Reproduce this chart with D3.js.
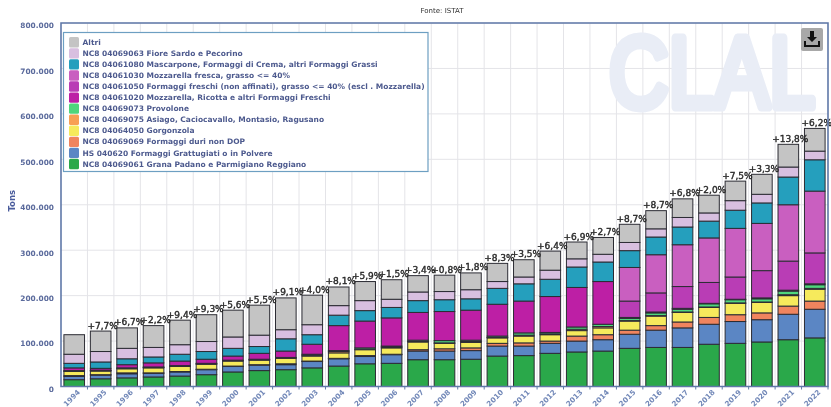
<!DOCTYPE html>
<html>
<head>
<meta charset="utf-8">
<script src="https://cdn.jsdelivr.net/npm/d3@7"></script>
<style>
html, body { margin: 0; padding: 0; background: #fff; overflow: hidden; }
svg { display: block; filter: blur(0.55px); font-family: "DejaVu Sans", sans-serif; }
</style>
</head>
<body>
<svg id="chart" width="831" height="407"></svg>
<script>
// migliaia di tonnellate
var years = [1994,1995,1996,1997,1998,1999,2000,2001,2002,2003,2004,2005,2006,2007,2008,2009,2010,2011,2012,2013,2014,2015,2016,2017,2018,2019,2020,2021,2022];
var grana      = [15,17,19,21,23,26,32,35,37,41,45,50,51,59,59,60,67,68,73,76,78,84,86,86,93,95,98,103,107];
var grattugiati= [7,8,9,8,9,11,12,12,11,14,16,16,19,19,19,19,22,21,22,24,25,31,38,43,44,48,49,56,63];
var duri       = [2,1,2,1,1,1,1,1,2,1,1,2,1,3,5,6,6,7,5,11,11,9,10,13,15,15,15,18,18];
var gorgonzola = [9,8,9,11,11,11,11,10,12,11,12,13,14,17,12,12,12,15,14,12,15,20,21,21,22,25,23,23,26];
var asiago     = [1,1,1,1,1,1,1,1,1,2,3,1,2,1,1,2,1,2,2,3,3,1,1,1,1,1,1,2,2];
var provolone  = [1,1,1,1,1,1,1,1,1,2,2,3,2,3,5,3,3,5,3,5,5,5,6,6,7,7,7,8,8];
var mozzRicotta= [6,4,7,9,10,9,9,13,14,22,55,59,62,61,64,66,70,70,79,87,94,2,2,2,1,1,2,2,2];
var freschi    = [0,0,0,0,0,0,0,0,0,0,0,0,0,0,0,0,0,0,0,0,0,36,42,48,46,49,60,64,68];
var mozzFresca = [0,0,0,0,0,0,0,0,0,0,0,0,0,0,0,0,0,0,0,0,0,74,84,92,98,107,104,124,136];
var mascarpone = [10,14,13,13,15,17,17,15,27,21,23,23,23,26,26,25,35,38,38,45,43,37,39,39,37,40,45,61,69];
var fiore      = [20,23,23,21,21,22,25,25,20,22,21,22,18,19,18,20,15,15,20,18,17,18,18,21,18,21,19,22,19];
var altri      = [43,45,45,48,54,59,59,66,70,65,41,42,43,36,36,37,40,38,42,37,37,40,40,41,39,43,44,50,50];
var growth = ["","+7,7%","+6,7%","+2,2%","+9,4%","+9,3%","+5,6%","+5,5%","+9,1%","+4,0%","+8,1%","+5,9%","+1,5%","+3,4%","+0,8%","+1,8%","+8,3%","+3,5%","+6,4%","+6,9%","+2,7%","+8,7%","+8,7%","+6,8%","+2,0%","+7,5%","+3,3%","+13,8%","+6,2%"];

var yTicks = [0,100,200,300,400,500,600,700,800];

// dal basso verso l'alto
var seriesNames = ["grana","grattugiati","duri","gorgonzola","asiago","provolone","mozzRicotta","freschi","mozzFresca","mascarpone","fiore","altri"];
var seriesValues = [grana,grattugiati,duri,gorgonzola,asiago,provolone,mozzRicotta,freschi,mozzFresca,mascarpone,fiore,altri];
var seriesColors = ["#2aa84a","#5b86c4","#f0845e","#f6ea5c","#f8a054","#4fd67c","#bd1fa5","#b93db5","#c95fc0","#259fbd","#d8bfe0","#c4c4c4"];
// legenda dall'alto verso il basso
var legendLabels = [
    "NC8 04069061 Grana Padano e Parmigiano Reggiano",
    "HS 040620 Formaggi Grattugiati o in Polvere",
    "NC8 04069069 Formaggi duri non DOP",
    "NC8 04064050 Gorgonzola",
    "NC8 04069075 Asiago, Caciocavallo, Montasio, Ragusano",
    "NC8 04069073 Provolone",
    "NC8 04061020 Mozzarella, Ricotta e altri Formaggi Freschi",
    "NC8 04061050 Formaggi freschi (non affinati), grasso <= 40% (escl . Mozzarella)",
    "NC8 04061030 Mozzarella fresca, grasso <= 40%",
    "NC8 04061080 Mascarpone, Formaggi di Crema, altri Formaggi Grassi",
    "NC8 04069063 Fiore Sardo e Pecorino",
    "Altri"
];

var LAYOUT = { "left": 61, "right": 828, "top": 23, "bottom": 386.5 };
var axisColor = "#5f78a8";
var labelColor = "#5a6a9c";

var svg = d3.select("#chart");

var x = d3.scaleBand()
    .domain(years)
    .range([LAYOUT.left, LAYOUT.right])
    .paddingInner(0.22)
    .paddingOuter(0.11);

var y = d3.scaleLinear()
    .domain([0, 800])
    .range([LAYOUT.bottom, LAYOUT.top]);

var color = d3.scaleOrdinal().domain(seriesNames).range(seriesColors);

var table = years.map(function (year, i) {
    var row = { year: year };
    seriesNames.forEach(function (name, s) { row[name] = seriesValues[s][i]; });
    return row;
});
var stacked = d3.stack().keys(seriesNames)(table);

// griglia
var grid = svg.append("g").attr("class", "grid");
grid.selectAll("line.h")
    .data(yTicks)
    .enter().append("line")
    .attr("class", "h")
    .attr("x1", LAYOUT.left).attr("x2", LAYOUT.right)
    .attr("y1", function (d) { return y(d); })
    .attr("y2", function (d) { return y(d); })
    .attr("stroke", "#e4e4e8").attr("stroke-width", 1);
grid.selectAll("line.v")
    .data(years.slice(0, -1))
    .enter().append("line")
    .attr("class", "v")
    .attr("x1", function (d) { return x(d) + x.step() * 0.89; })
    .attr("x2", function (d) { return x(d) + x.step() * 0.89; })
    .attr("y1", LAYOUT.top).attr("y2", LAYOUT.bottom)
    .attr("stroke", "#e4e4e8").attr("stroke-width", 1);

// logo in filigrana
svg.append("text")
    .attr("x", 609).attr("y", 107)
    .attr("textLength", 206).attr("lengthAdjust", "spacingAndGlyphs")
    .attr("font-family", "'Liberation Sans', sans-serif")
    .attr("font-size", 100)
    .attr("fill", "#e9edf6").attr("stroke", "#e9edf6")
    .attr("stroke-width", 9).attr("stroke-linejoin", "round")
    .text("CLAL");

// barre
var layers = svg.append("g").attr("class", "bars")
    .selectAll("g")
    .data(stacked)
    .enter().append("g")
    .attr("fill", function (d) { return color(d.key); });

layers.selectAll("rect")
    .data(function (d) { return d.filter(function (e) { return e[1] > e[0]; }); })
    .enter().append("rect")
    .attr("x", function (d) { return x(d.data.year); })
    .attr("width", x.bandwidth())
    .attr("y", function (d) { return y(d[1]); })
    .attr("height", function (d) { return y(d[0]) - y(d[1]); })
    .attr("stroke", "#2c2c34")
    .attr("stroke-width", 1);

// variazione annua sopra le barre
var totals = table.map(function (row) { return d3.sum(seriesNames, function (n) { return row[n]; }); });
svg.append("g").attr("class", "growth")
    .selectAll("text")
    .data(years)
    .enter().append("text")
    .attr("x", function (d) { return x(d) + x.bandwidth() / 2 + 2; })
    .attr("y", function (d, i) { return y(totals[i]) - 2.5; })
    .attr("text-anchor", "middle")
    .attr("font-size", 9)
    .attr("fill", "#2a2a2a")
    .attr("stroke", "#2a2a2a").attr("stroke-width", 0.4)
    .text(function (d, i) { return growth[i]; });

// assi
var fmt = d3.formatLocale({ decimal: ",", thousands: ".", grouping: [3], currency: ["", ""] }).format(",");
var yAxis = svg.append("g")
    .attr("transform", "translate(" + LAYOUT.left + ",0)")
    .call(d3.axisLeft(y).tickValues(yTicks).tickSize(0).tickPadding(7).tickFormat(function (d) { return fmt(d * 1000); }));
yAxis.select(".domain").remove();
yAxis.selectAll("text")
    .attr("dy", "0.65em")
    .attr("font-family", "'DejaVu Sans', sans-serif")
    .attr("font-weight", "bold").attr("font-size", 7.4)
    .attr("fill", labelColor);

var xAxis = svg.append("g")
    .attr("transform", "translate(0," + LAYOUT.bottom + ")")
    .call(d3.axisBottom(x).tickSize(0).tickPadding(5));
xAxis.select(".domain").remove();
xAxis.selectAll("text")
    .attr("font-family", "'DejaVu Sans', sans-serif")
    .attr("font-weight", "bold").attr("font-size", 7.2)
    .attr("fill", "#7288b8")
    .attr("text-anchor", "end")
    .attr("dx", "0.5em").attr("dy", "0.75em")
    .each(function () {
        // ruota attorno al tick
        var t = d3.select(this);
        t.attr("transform", "rotate(-45 0 " + t.attr("y") + ")");
    });

svg.append("g").attr("class", "ticks")
    .selectAll("line")
    .data(years)
    .enter().append("line")
    .attr("x1", function (d) { return x(d) + x.step() * 0.89; })
    .attr("x2", function (d) { return x(d) + x.step() * 0.89; })
    .attr("y1", LAYOUT.bottom).attr("y2", LAYOUT.bottom + 3)
    .attr("stroke", axisColor).attr("stroke-width", 1);

// cornice
svg.append("path")
    .attr("d", "M" + LAYOUT.left + "," + LAYOUT.bottom + "V" + LAYOUT.top + "H" + LAYOUT.right + "V" + LAYOUT.bottom + "Z")
    .attr("fill", "none").attr("stroke", axisColor).attr("stroke-width", 1.6);

svg.append("text")
    .attr("transform", "translate(15," + (y(400) - 4) + ") rotate(-90)")
    .attr("text-anchor", "middle")
    .attr("font-weight", "bold").attr("font-size", 8.5)
    .attr("fill", "#4a5c9c")
    .text("Tons");

svg.append("text")
    .attr("x", 442).attr("y", 13)
    .attr("text-anchor", "middle")
    .attr("font-size", 7)
    .attr("fill", "#333")
    .text("Fonte: ISTAT");

// legenda
var legend = svg.append("g").attr("class", "legend");
legend.append("rect")
    .attr("x", 63.5).attr("y", 32.5).attr("width", 364.5).attr("height", 139)
    .attr("fill", "#fff").attr("stroke", "#6d9fc2").attr("stroke-width", 1.2);

var legendRows = legend.selectAll("g.row")
    .data(seriesNames.slice().reverse())
    .enter().append("g")
    .attr("class", "row")
    .attr("transform", function (d, i) { return "translate(69," + (42.3 + i * 11.06) + ")"; });
legendRows.append("rect")
    .attr("x", 0).attr("y", -5.2).attr("width", 10).attr("height", 10.4).attr("rx", 1.5)
    .attr("fill", function (d) { return color(d); });
legendRows.append("text")
    .attr("x", 13.5).attr("y", 2.6)
    .attr("font-size", 7.5)
    .attr("font-weight", "bold")
    .attr("fill", "#4d5a8e")
    .text(function (d) { return legendLabels[seriesNames.indexOf(d)]; });

// pulsante download
var btn = svg.append("g").attr("transform", "translate(801,28)");
btn.append("rect").attr("width", 22).attr("height", 23).attr("rx", 2).attr("fill", "#a8a8a8");
btn.append("path")
    .attr("d", "M9,3H13V9H16L11,14L6,9H9Z M3,13V19H19V13H17V17H5V13Z")
    .attr("fill", "#111");
</script>
</body>
</html>
